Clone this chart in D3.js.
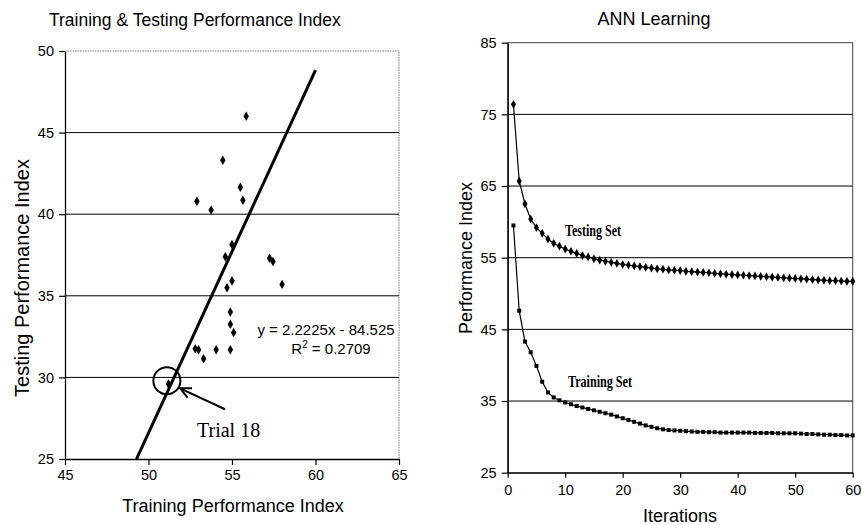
<!DOCTYPE html>
<html><head><meta charset="utf-8">
<script src="https://cdn.jsdelivr.net/npm/d3@7/dist/d3.min.js"></script>
<style>body{margin:0;background:#fff}svg{display:block}text{font-family:"Liberation Sans",Arial,sans-serif;fill:#000}</style>
</head><body><svg id="c" width="861" height="525"></svg>
<script>
// ---- Left chart data ----
const trainPI = [55.85,54.45,55.5,52.9,55.65,53.75,55.0,54.6,57.25,57.45,55.0,54.7,58.0,54.9,54.9,55.1,52.8,53.0,53.3,54.05,54.9,51.2];
const testPI  = [46.0,43.3,41.65,40.8,40.85,40.25,38.15,37.4,37.3,37.1,35.9,35.5,35.7,34.0,33.25,32.75,31.75,31.7,31.15,31.7,31.7,29.6];
const trendSlope = 2.2225, trendIntercept = -84.525;
const trendRange = [49.28, 60];
const leftXTicks = [45,50,55,60,65];
const leftYTicks = [25,30,35,40,45,50];
const trial = {x:51.1, y:29.8, label:"Trial 18"};

// ---- Right chart data ----
const iterations = d3.range(1,61);
const testingSet = [76.4,65.7,62.5,60.4,59.2,58.4,57.6,57.0,56.6,56.2,55.9,55.6,55.3,55.1,54.85,54.65,54.5,54.35,54.2,54.05,
 53.95,53.85,53.75,53.65,53.55,53.45,53.4,53.3,53.25,53.2,53.1,53.05,53.0,52.95,52.9,52.8,52.75,52.7,52.65,52.6,
 52.55,52.5,52.45,52.4,52.35,52.3,52.25,52.2,52.15,52.1,52.05,52.0,51.95,51.9,51.85,51.8,51.8,51.75,51.7,51.7];
const trainingSet = [59.5,47.6,43.3,41.8,39.9,37.7,36.2,35.5,35.1,34.8,34.55,34.3,34.1,33.9,33.7,33.5,33.3,33.1,32.85,32.6,
 32.35,32.1,31.85,31.6,31.4,31.2,31.05,30.95,30.9,30.85,30.8,30.75,30.7,30.7,30.65,30.65,30.6,30.6,30.6,30.6,
 30.6,30.6,30.55,30.55,30.55,30.55,30.5,30.5,30.5,30.5,30.45,30.4,30.4,30.35,30.3,30.3,30.25,30.25,30.2,30.2];
const rightXTicks = [0,10,20,30,40,50,60];
const rightYTicks = [25,35,45,55,65,75,85];

const svg = d3.select("#c");

// ================= LEFT =================
const xL = d3.scaleLinear([45,65],[65,399]);
const yL = d3.scaleLinear([25,50],[459,51]);
const gL = svg.append("g");

gL.append("path").attr("d",`M${xL(45)},${yL(50)}H${xL(65)}V${yL(25)}`)
  .attr("fill","none").attr("stroke","#777").attr("stroke-dasharray","1.5,1");
gL.selectAll(".gl").data(leftYTicks.filter(d=>d>25&&d<50)).join("line")
  .attr("x1",xL(45)).attr("x2",xL(65)).attr("y1",d=>yL(d)).attr("y2",d=>yL(d))
  .attr("stroke","#000").attr("stroke-width",1);
const axL = gL.append("g").attr("transform",`translate(${xL(45)},0)`)
  .call(d3.axisLeft(yL).tickValues(leftYTicks).tickSize(6).tickPadding(5).tickSizeOuter(0));
const axB = gL.append("g").attr("transform",`translate(0,${yL(25)})`)
  .call(d3.axisBottom(xL).tickValues(leftXTicks).tickSize(6).tickPadding(5).tickSizeOuter(0));
[axL,axB].forEach(a=>{a.selectAll("text").attr("font-size",14.5).attr("font-family","Liberation Sans, Arial");
  a.selectAll(".tick line").attr("stroke-width",1.2);
  a.select(".domain").attr("stroke","#000").attr("stroke-width",1.3);});

gL.append("line").attr("x1",xL(trendRange[0])).attr("y1",yL(trendSlope*trendRange[0]+trendIntercept))
  .attr("x2",xL(trendRange[1])).attr("y2",yL(trendSlope*trendRange[1]+trendIntercept))
  .attr("stroke","#000").attr("stroke-width",3);
gL.selectAll(".pt").data(trainPI.map((x,i)=>[x,testPI[i]])).join("path")
  .attr("transform",d=>`translate(${xL(d[0])},${yL(d[1])})`)
  .attr("d",d3.symbol(d3.symbolDiamond,26)).attr("fill","#000");

gL.append("text").attr("x",326).attr("y",335).attr("text-anchor","middle").attr("font-size",15).text("y = 2.2225x - 84.525");
const r2 = gL.append("text").attr("x",331).attr("y",354).attr("text-anchor","middle").attr("font-size",15);
r2.append("tspan").text("R");
r2.append("tspan").attr("font-size",10).attr("dy",-6).text("2");
r2.append("tspan").attr("dy",6).text(" = 0.2709");

gL.append("circle").attr("cx",xL(trial.x)).attr("cy",yL(trial.y)).attr("r",13.5)
  .attr("fill","none").attr("stroke","#000").attr("stroke-width",2);
const tip=[xL(51.89),yL(29.33)], tail=[xL(54.58),yL(28.05)];
gL.append("line").attr("x1",tail[0]).attr("y1",tail[1]).attr("x2",tip[0]).attr("y2",tip[1]).attr("stroke","#000").attr("stroke-width",2);
{
  const ang=Math.atan2(tip[1]-tail[1],tip[0]-tail[0]), L=12, s=0.45;
  const p1=[tip[0]-L*Math.cos(ang-s),tip[1]-L*Math.sin(ang-s)], p2=[tip[0]-L*Math.cos(ang+s),tip[1]-L*Math.sin(ang+s)];
  gL.append("path").attr("d",`M${p1}L${tip}L${p2}`).attr("fill","none").attr("stroke","#000").attr("stroke-width",2);
}
gL.append("text").attr("x",197).attr("y",437).attr("font-size",20)
  .style("font-family","Liberation Serif, Times New Roman, serif").text(trial.label);

gL.append("text").attr("x",49).attr("y",26).attr("font-size",17.5).text("Training & Testing Performance Index");
gL.append("text").attr("x",233).attr("y",512).attr("text-anchor","middle").attr("font-size",18).text("Training Performance Index");
gL.append("text").attr("transform","translate(29,278) rotate(-90)").attr("text-anchor","middle").attr("font-size",20).text("Testing Performance Index");

// ================= RIGHT =================
const xR = d3.scaleLinear([0,60],[507.7,852.7]);
const yR = d3.scaleLinear([25,85],[472.7,42.7]);
const gR = svg.append("g");
gR.append("rect").attr("x",xR(0)).attr("y",yR(85)).attr("width",xR(60)-xR(0)).attr("height",yR(25)-yR(85))
  .attr("fill","none").attr("stroke","#444").attr("stroke-width",1);
gR.selectAll(".gl").data(rightYTicks.filter(d=>d>25&&d<85)).join("line")
  .attr("x1",xR(0)).attr("x2",xR(60)).attr("y1",d=>yR(d)).attr("y2",d=>yR(d))
  .attr("stroke","#000").attr("stroke-width",1);
const arL = gR.append("g").attr("transform",`translate(${xR(0)},0)`)
  .call(d3.axisLeft(yR).tickValues(rightYTicks).tickSize(6).tickPadding(5).tickSizeOuter(0));
const arB = gR.append("g").attr("transform",`translate(0,${yR(25)})`)
  .call(d3.axisBottom(xR).tickValues(rightXTicks).tickSize(5).tickPadding(7).tickSizeOuter(0));
[arL,arB].forEach(a=>{a.selectAll("text").attr("font-size",14.5).attr("font-family","Liberation Sans, Arial");
  a.selectAll(".tick line").attr("stroke-width",1.2);
  a.select(".domain").attr("stroke","#000").attr("stroke-width",1.3);});

const line = d3.line().x((d,i)=>xR(iterations[i])).y(d=>yR(d));
gR.append("path").attr("d",line(testingSet)).attr("fill","none").attr("stroke","#000").attr("stroke-width",1.2);
gR.append("path").attr("d",line(trainingSet)).attr("fill","none").attr("stroke","#000").attr("stroke-width",1.2);
gR.selectAll(".ts").data(testingSet).join("path")
  .attr("transform",(d,i)=>`translate(${xR(iterations[i])},${yR(d)})`)
  .attr("d",d3.symbol(d3.symbolDiamond,22)).attr("fill","#000");
gR.selectAll(".tr").data(trainingSet).join("path")
  .attr("transform",(d,i)=>`translate(${xR(iterations[i])},${yR(d)})`)
  .attr("d",d3.symbol(d3.symbolSquare,16)).attr("fill","#000");

const serif = "Liberation Serif, Times New Roman, serif";
gR.append("text").attr("x",565).attr("y",236).attr("font-size",16).attr("font-weight","bold")
  .attr("textLength",56).attr("lengthAdjust","spacingAndGlyphs").style("font-family",serif).text("Testing Set");
gR.append("text").attr("x",568).attr("y",387).attr("font-size",16).attr("font-weight","bold")
  .attr("textLength",64).attr("lengthAdjust","spacingAndGlyphs").style("font-family",serif).text("Training Set");

gR.append("text").attr("x",654).attr("y",25).attr("text-anchor","middle").attr("font-size",18).text("ANN Learning");
gR.append("text").attr("x",680).attr("y",522).attr("text-anchor","middle").attr("font-size",18).text("Iterations");
gR.append("text").attr("transform","translate(472,258) rotate(-90)").attr("text-anchor","middle").attr("font-size",18).text("Performance Index");
</script></body></html>
